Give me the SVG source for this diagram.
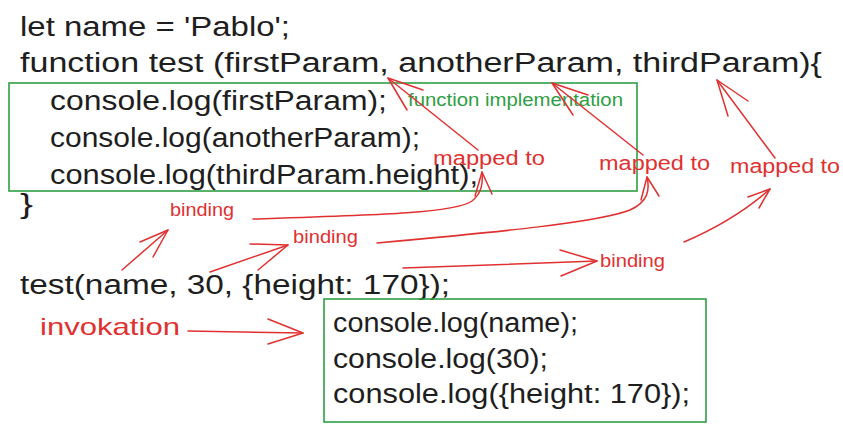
<svg xmlns="http://www.w3.org/2000/svg" width="843" height="429" viewBox="0 0 843 429">
<style>
  .code { font-family: "Liberation Sans", "DejaVu Sans", sans-serif; font-size: 27px; fill: #1e1e1e; }
  .note { font-family: "Liberation Sans", "DejaVu Sans", sans-serif; fill: #e03131; }
  .impl { font-family: "Liberation Sans", "DejaVu Sans", sans-serif; font-size: 18px; fill: #2f9e44; }
  .box { fill: none; stroke: #2f9e44; stroke-width: 1.6; }
  .arr { fill: none; stroke: #e03131; stroke-width: 1.5; stroke-linecap: round; stroke-linejoin: round; }
</style>
<rect width="843" height="429" fill="#ffffff"/>

<g id="declaration">
  <text class="code" x="20" y="36" textLength="270" lengthAdjust="spacingAndGlyphs">let name = 'Pablo';</text>
  <text class="code" x="20" y="72" textLength="802" lengthAdjust="spacingAndGlyphs">function test (firstParam, anotherParam, thirdParam){</text>
  <text class="code" x="20" y="213" textLength="13" lengthAdjust="spacingAndGlyphs">}</text>
</g>

<g id="function-body">
  <rect class="box" x="9" y="83" width="628" height="108"/>
  <text class="code" x="50" y="110" textLength="337" lengthAdjust="spacingAndGlyphs">console.log(firstParam);</text>
  <text class="code" x="50" y="147" textLength="370" lengthAdjust="spacingAndGlyphs">console.log(anotherParam);</text>
  <text class="code" x="50" y="184" textLength="428" lengthAdjust="spacingAndGlyphs">console.log(thirdParam.height);</text>
</g>

<g id="function-implementation-label">
  <text class="impl" x="408" y="106" textLength="215" lengthAdjust="spacingAndGlyphs">function implementation</text>
</g>

<g id="call">
  <text class="code" x="20" y="294" textLength="430" lengthAdjust="spacingAndGlyphs">test(name, 30, {height: 170});</text>
</g>

<g id="invokation-label">
  <text class="note" x="40" y="335" font-size="24" textLength="140" lengthAdjust="spacingAndGlyphs">invokation</text>
</g>

<g id="invoked-body">
  <rect class="box" x="324" y="299" width="382" height="123"/>
  <text class="code" x="333" y="332" textLength="245" lengthAdjust="spacingAndGlyphs">console.log(name);</text>
  <text class="code" x="333" y="368" textLength="215" lengthAdjust="spacingAndGlyphs">console.log(30);</text>
  <text class="code" x="333" y="403" textLength="357" lengthAdjust="spacingAndGlyphs">console.log({height: 170});</text>
</g>

<g id="mapped-to-1"><text class="note" x="433" y="165" font-size="20" textLength="112" lengthAdjust="spacingAndGlyphs">mapped to</text></g>
<g id="mapped-to-2"><text class="note" x="599" y="170" font-size="20" textLength="111" lengthAdjust="spacingAndGlyphs">mapped to</text></g>
<g id="mapped-to-3"><text class="note" x="730" y="173" font-size="20" textLength="110" lengthAdjust="spacingAndGlyphs">mapped to</text></g>

<g id="binding-1"><text class="note" x="170" y="216" font-size="18" textLength="64" lengthAdjust="spacingAndGlyphs">binding</text></g>
<g id="binding-2"><text class="note" x="293" y="243" font-size="18" textLength="65" lengthAdjust="spacingAndGlyphs">binding</text></g>
<g id="binding-3"><text class="note" x="600" y="267" font-size="18" textLength="65" lengthAdjust="spacingAndGlyphs">binding</text></g>

<g id="connectors">
  <!-- mapped to -> params -->
  <path class="arr" d="M478,150 L388,78"/>
  <path class="arr" d="M423,90 L388,78 L407,110"/>
  <path class="arr" d="M643,155 L552,83"/>
  <path class="arr" d="M588,95 L552,83 L573,115"/>
  <path class="arr" d="M775,158 L717,80"/>
  <path class="arr" d="M748,101 L717,80 L728,116"/>
  <!-- arguments -> binding -->
  <path class="arr" d="M122,270 L168,230"/>
  <path class="arr" d="M140,242 L168,230 L153,257"/>
  <path class="arr" d="M210,272 L288,245"/>
  <path class="arr" d="M250,244 L288,245 L258,270"/>
  <path class="arr" d="M403,268 L597,261"/>
  <path class="arr" d="M560,250 L597,261 L561,276"/>
  <!-- binding -> mapped to -->
  <path class="arr" d="M253,219 C380,215 455,213 472,201 C482,193 483,183 482,172"/>
  <path class="arr" d="M475,196 L482,172 L492,194"/>
  <path class="arr" d="M377,243 C500,232 600,222 630,210 C648,202 650,190 647,177"/>
  <path class="arr" d="M641,200 L647,177 L659,196"/>
  <path class="arr" d="M684,242 Q735,220 770,189"/>
  <path class="arr" d="M748,197 L770,189 L759,208"/>
  <!-- invokation -->
  <path class="arr" d="M188,331 L303,333"/>
  <path class="arr" d="M268,319 L303,333 L268,344"/>
</g>
</svg>
